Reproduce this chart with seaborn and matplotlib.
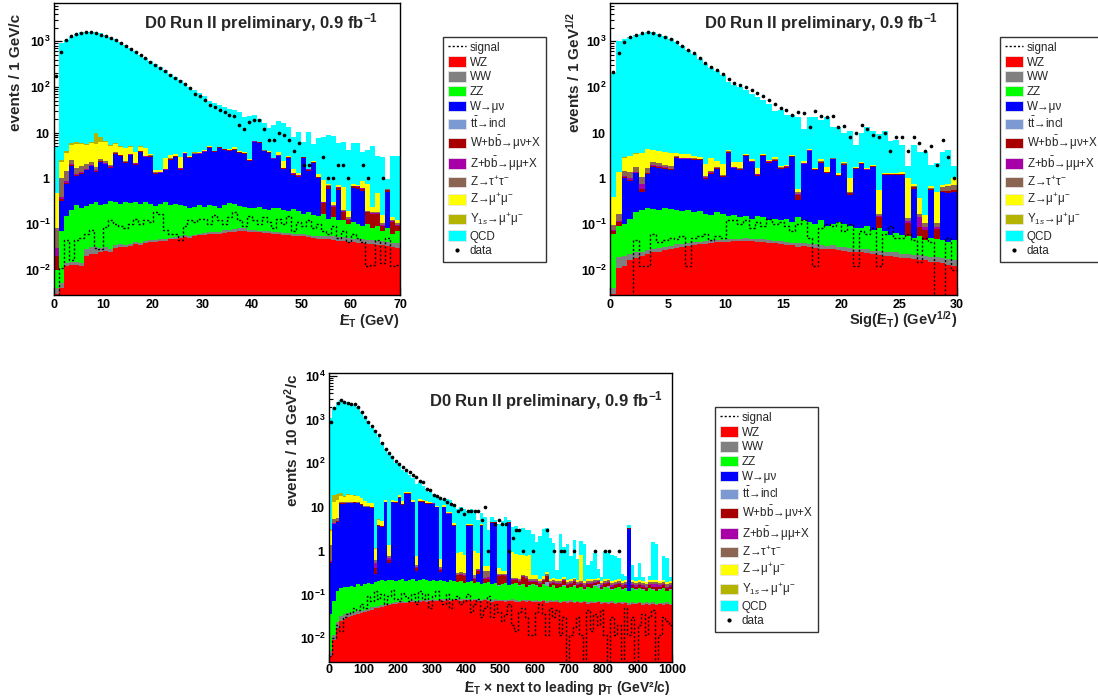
import numpy as np
import matplotlib
matplotlib.use("Agg")
import matplotlib.pyplot as plt
import seaborn as sns
from matplotlib.lines import Line2D
from matplotlib.patches import Patch
from matplotlib.ticker import MultipleLocator, FixedLocator, NullFormatter, FuncFormatter

# ---------------- panel 1 : missing ET, 1 GeV bins (0-70) ----------------
wz1 = [0.003, 0.004, 0.012, 0.013, 0.013, 0.012, 0.020, 0.022, 0.022, 0.024,
       0.026, 0.025, 0.030, 0.032, 0.031, 0.033, 0.036, 0.035, 0.038, 0.040,
       0.041, 0.043, 0.042, 0.046, 0.047, 0.050, 0.052, 0.050, 0.055, 0.057,
       0.058, 0.061, 0.062, 0.060, 0.065, 0.066, 0.068, 0.072, 0.070, 0.068,
       0.067, 0.066, 0.065, 0.064, 0.062, 0.060, 0.059, 0.058, 0.056, 0.055,
       0.054, 0.052, 0.050, 0.048, 0.047, 0.046, 0.045, 0.043, 0.043, 0.041,
       0.040, 0.039, 0.038, 0.037, 0.036, 0.035, 0.034, 0.033, 0.031, 0.030]
ww1 = [0.001, 0.001, 0.002, 0.002, 0.002, 0.002, 0.008, 0.010, 0.009, 0.006,
       0.005, 0.004, 0.004, 0.005, 0.004, 0.004, 0.005, 0.004, 0.004, 0.005,
       0.004, 0.004, 0.005, 0.004, 0.005, 0.004, 0.005, 0.005, 0.004, 0.005,
       0.006, 0.005, 0.006, 0.008, 0.010, 0.009, 0.010, 0.012, 0.011, 0.008,
       0.006, 0.006, 0.005, 0.006, 0.005, 0.006, 0.005, 0.006, 0.005, 0.006,
       0.006, 0.005, 0.006, 0.007, 0.008, 0.009, 0.010, 0.009, 0.010, 0.009,
       0.008, 0.009, 0.008, 0.007, 0.008, 0.008, 0.009, 0.008, 0.007, 0.008]
zz1 = [0.006, 0.065, 0.136, 0.185, 0.245, 0.206, 0.222, 0.238, 0.269, 0.230,
       0.249, 0.291, 0.266, 0.233, 0.265, 0.253, 0.269, 0.241, 0.258, 0.225,
       0.205, 0.233, 0.253, 0.210, 0.218, 0.206, 0.193, 0.175, 0.181, 0.198,
       0.176, 0.194, 0.182, 0.162, 0.185, 0.215, 0.192, 0.166, 0.159, 0.144,
       0.157, 0.168, 0.140, 0.130, 0.153, 0.164, 0.136, 0.126, 0.149, 0.129,
       0.110, 0.123, 0.104, 0.095, 0.115, 0.075, 0.085, 0.068, 0.067, 0.050,
       0.062, 0.052, 0.044, 0.056, 0.036, 0.047, 0.027, 0.039, 0.022, 0.032]
wmn1 = [0.0, 0.25, 0.6, 1.7, 0.85, 1.05, 1.25, 1.55, 1.1, 2.0,
        1.75, 1.4, 3.1, 2.8, 1.9, 2.9, 1.7, 3.5, 2.6, 2.7,
        1.0, 1.0, 1.2, 2.3, 2.7, 1.3, 3.1, 2.6, 3.1, 3.1,
        3.5, 4.4, 3.5, 4.4, 3.9, 3.7, 4.0, 3.4, 3.2, 2.2,
        6.0, 5.8, 3.7, 3.4, 2.4, 2.8, 1.4, 2.6, 1.0, 0.9,
        2.6, 1.3, 2.0, 0.85, 0.0, 0.45, 0.0, 0.45, 0.0, 0.0,
        0.5, 0.5, 0.45, 0.0, 0.0, 0.0, 0.0, 0.42, 0.0, 0.0]
wbb1 = [0.01, 0.03, 0.05, 0.08, 0.05, 0.06, 0.06, 0.07, 0.06, 0.09,
        0.08, 0.07, 0.12, 0.10, 0.08, 0.12, 0.08, 0.14, 0.10, 0.11,
        0.06, 0.06, 0.06, 0.09, 0.10, 0.06, 0.12, 0.10, 0.12, 0.12,
        0.13, 0.15, 0.13, 0.15, 0.14, 0.13, 0.14, 0.13, 0.12, 0.10,
        0.18, 0.18, 0.13, 0.12, 0.10, 0.12, 0.08, 0.10, 0.06, 0.06,
        0.10, 0.07, 0.08, 0.05, 0.12, 0.10, 0.10, 0.06, 0.06, 0.02,
        0.06, 0.06, 0.06, 0.08, 0.09, 0.08, 0.02, 0.06, 0.05, 0.02]
zbb1 = [0.01, 0.05, 0.08, 0.10, 0.07, 0.07, 0.06, 0.06, 0.05, 0.06,
        0.05, 0.05, 0.07, 0.06, 0.05, 0.06, 0.05, 0.06, 0.05, 0.05,
        0.03, 0.03, 0.03, 0.04, 0.04, 0.03, 0.04, 0.04, 0.04, 0.04,
        0.04, 0.04, 0.04, 0.04, 0.04, 0.03, 0.03, 0.03, 0.03, 0.03,
        0.04, 0.04, 0.03, 0.03, 0.02, 0.03, 0.02, 0.02, 0.02, 0.02,
        0.02, 0.02, 0.02, 0.01, 0.01, 0.01, 0.01, 0.01, 0.01, 0.01,
        0.01, 0.01, 0.01, 0.005, 0.005, 0.005, 0.005, 0.01, 0.005, 0.005]
ztt1 = [0.05, 0.6, 0.6, 0.5, 0.5, 0.45, 0.4, 0.35, 0.3, 0.25,
        0.2, 0.15, 0.12, 0.1, 0.1, 0.08, 0.08, 0.07, 0.06, 0.06,
        0.04, 0.04, 0.05, 0.04, 0.04, 0.03, 0.03, 0.03, 0.03, 0.03,
        0.03, 0.02, 0.02, 0.02, 0.02, 0.02, 0.02, 0.02, 0.02, 0.02,
        0.02, 0.02, 0.02, 0.01, 0.01, 0.01, 0.01, 0.01, 0.01, 0.01,
        0.01, 0.01, 0.01, 0.01, 0.01, 0.01, 0.01, 0.01, 0.01, 0.01,
        0.01, 0.01, 0.01, 0.01, 0.01, 0.01, 0.01, 0.01, 0.01, 0.01]
zmm1 = [0.4, 1.3, 2.2, 2.7, 3.85, 3.9, 3.25, 3.5, 3.8, 3.45,
        3.95, 3.15, 1.9, 1.6, 2.2, 1.5, 1.5, 0.9, 1.5, 0.25,
        0.15, 0.12, 1.2, 0.5, 0.2, 1.2, 0.25, 0.15, 0.15, 0.15,
        0.15, 0.15, 0.1, 0.1, 0.1, 0.3, 0.3, 0.12, 0.1, 0.08,
        0.12, 0.1, 0.1, 0.3, 0.1, 0.5, 0.7, 0.1, 0.3, 0.1,
        0.1, 0.05, 0.1, 0.15, 0.6, 0.05, 0.05, 0.05, 0.45, 0.05,
        0.05, 0.05, 0.25, 0.55, 0.05, 0.3, 0.05, 0.02, 0.02, 0.02]
ups1 = [0.0, 0.2, 0.3, 0.8, 0.7, 0.3, 0.3, 0.3, 4.0, 1.8,
        0.3, 0.2, 0.2, 0.1, 0.1, 0.05, 0.05, 0.05, 0.05, 0.03,
        0.03, 0.02, 0.02, 0.02, 0.02, 0.01, 0.01, 0.01, 0.01, 0.01,
        0.01, 0.01, 0.01, 0.01, 0.01, 0.01, 0, 0, 0, 0,
        0, 0, 0, 0, 0, 0, 0, 0, 0, 0,
        0, 0, 0, 0, 0, 0, 0, 0, 0, 0,
        0, 0, 0, 0, 0, 0, 0, 0, 0, 0]
qcd1 = [4.5, 898, 1046, 1244, 1444, 1574, 1615, 1634, 1591, 1492,
        1394, 1245, 1095, 945, 815, 695, 596, 505, 425, 367,
        318, 273, 227, 192, 162, 142, 121, 97, 84, 71,
        58, 45, 41, 35, 32, 28.7, 27.4, 24, 18.4, 20.4,
        17.6, 13.8, 11.9, 8.6, 12.2, 14.6, 13.8, 10, 6.6, 9.2,
        3.3, 8.8, 3.4, 6.3, 7.1, 8.2, 8.15, 5.15, 5.7, 4.0,
        5.1, 5.15, 3.0, 3.5, 4.95, 2.55, 2.75, 0.35, 2.9, 3.0]
data1 = [173, 590, 1070, 1300, 1450, 1550, 1600, 1580, 1500, 1400,
         1300, 1180, 1050, 920, 800, 690, 590, 500, 425, 360,
         305, 262, 222, 185, 158, 134, 117, 95, 72, 62,
         52, 40, 37, 31, 28, 25, 23, 15, 12, 17,
         19, 19, 12, 7, 7, 10, 9, 7, 4, 6,
         2, 2, 0, 0, 3, 1, 1, 2, 2, 1,
         0, 0, 2, 1, 0, 0, 1, 0, 0, 0]
sig1 = [0.001, 0.011, 0.044, 0.016, 0.044, 0.05, 0.06, 0.075, 0.03, 0.029,
        0.085, 0.12, 0.10, 0.09, 0.08, 0.10, 0.13, 0.10, 0.12, 0.11,
        0.18, 0.17, 0.073, 0.061, 0.06, 0.044, 0.09, 0.12, 0.11, 0.13,
        0.13, 0.10, 0.16, 0.12, 0.10, 0.14, 0.18, 0.12, 0.09, 0.15,
        0.12, 0.10, 0.14, 0.11, 0.08, 0.13, 0.10, 0.15, 0.07, 0.11,
        0.09, 0.12, 0.08, 0.10, 0.07, 0.06, 0.09, 0.05, 0.07, 0.04,
        0.06, 0.05, 0.04, 0.012, 0.013, 0.045, 0.014, 0.05, 0.012, 0.013]

# ---------------- panel 2 : Sig(missing ET), 0.5 bins (0-30) ----------------
wz2 = [0.003, 0.011, 0.012, 0.016, 0.018, 0.020, 0.022, 0.024, 0.025, 0.027,
       0.028, 0.030, 0.032, 0.033, 0.034, 0.036, 0.037, 0.038, 0.040, 0.040,
       0.041, 0.042, 0.043, 0.042, 0.042, 0.041, 0.040, 0.039, 0.038, 0.036,
       0.035, 0.034, 0.032, 0.033, 0.031, 0.030, 0.029, 0.028, 0.028, 0.027,
       0.026, 0.025, 0.024, 0.024, 0.023, 0.022, 0.021, 0.020, 0.020, 0.019,
       0.018, 0.018, 0.017, 0.016, 0.016, 0.015, 0.015, 0.014, 0.013, 0.012]
ww2 = [0.001, 0.008, 0.008, 0.006, 0.006, 0.005, 0.005, 0.005, 0.005, 0.005,
       0.005, 0.006, 0.005, 0.005, 0.006, 0.005, 0.005, 0.006, 0.005, 0.005,
       0.006, 0.006, 0.005, 0.007, 0.006, 0.005, 0.006, 0.005, 0.005, 0.006,
       0.005, 0.005, 0.006, 0.005, 0.005, 0.006, 0.005, 0.005, 0.006, 0.005,
       0.005, 0.005, 0.004, 0.005, 0.005, 0.004, 0.005, 0.004, 0.004, 0.005,
       0.004, 0.004, 0.004, 0.005, 0.004, 0.004, 0.004, 0.004, 0.004, 0.004]
zz2 = [0.056, 0.07, 0.08, 0.108, 0.156, 0.175, 0.193, 0.181, 0.17, 0.188,
       0.177, 0.165, 0.153, 0.162, 0.141, 0.149, 0.128, 0.117, 0.135, 0.125,
       0.103, 0.112, 0.092, 0.103, 0.083, 0.104, 0.095, 0.076, 0.087, 0.079,
       0.09, 0.071, 0.103, 0.082, 0.074, 0.065, 0.086, 0.057, 0.067, 0.078,
       0.069, 0.06, 0.056, 0.051, 0.062, 0.048, 0.054, 0.045, 0.035, 0.041,
       0.037, 0.032, 0.028, 0.034, 0.025, 0.031, 0.029, 0.027, 0.023, 0.028]
wmn2 = [0.0, 0.0, 0.9, 0.75, 1.1, 0.3, 1.0, 1.6, 1.5, 1.4,
        1.3, 2.6, 2.4, 2.4, 2.4, 2.3, 0.8, 1.1, 1.4, 0.9,
        3.5, 1.5, 1.4, 2.9, 2.1, 1.0, 3.0, 2.1, 2.3, 1.5,
        1.6, 2.8, 0.2, 1.9, 3.8, 1.4, 2.1, 1.2, 2.5, 1.0,
        1.9, 0.35, 1.5, 2.0, 1.4, 1.7, 0.0, 1.1, 1.1, 1.1,
        1.1, 0.0, 0.55, 0.0, 0.0, 0.5, 0.0, 0.45, 0.45, 0.45]
wbb2 = [0.01, 0.02, 0.05, 0.06, 0.06, 0.10, 0.06, 0.08, 0.08, 0.07,
        0.07, 0.12, 0.10, 0.10, 0.10, 0.10, 0.05, 0.06, 0.07, 0.05,
        0.15, 0.07, 0.07, 0.12, 0.10, 0.06, 0.13, 0.10, 0.10, 0.07,
        0.08, 0.12, 0.10, 0.09, 0.15, 0.07, 0.10, 0.06, 0.10, 0.05,
        0.09, 0.04, 0.07, 0.10, 0.07, 0.08, 0.06, 0.06, 0.06, 0.06,
        0.06, 0.05, 0.04, 0.03, 0.03, 0.04, 0.03, 0.03, 0.04, 0.05]
zbb2 = [0.005, 0.01, 0.08, 0.06, 0.06, 0.15, 0.05, 0.05, 0.05, 0.05,
        0.04, 0.05, 0.05, 0.05, 0.04, 0.04, 0.03, 0.03, 0.03, 0.03,
        0.04, 0.03, 0.03, 0.03, 0.03, 0.02, 0.03, 0.03, 0.03, 0.02,
        0.02, 0.03, 0.02, 0.02, 0.03, 0.02, 0.02, 0.02, 0.02, 0.02,
        0.02, 0.01, 0.02, 0.02, 0.02, 0.02, 0.01, 0.02, 0.02, 0.02,
        0.02, 0.01, 0.01, 0.06, 0.01, 0.01, 0.01, 0.01, 0.01, 0.01]
ztt2 = [0.02, 0.05, 0.30, 0.40, 0.40, 0.30, 0.40, 0.35, 0.30, 0.25,
        0.20, 0.15, 0.12, 0.10, 0.10, 0.08, 0.08, 0.07, 0.06, 0.06,
        0.05, 0.05, 0.04, 0.04, 0.04, 0.04, 0.03, 0.03, 0.03, 0.03,
        0.03, 0.03, 0.03, 0.03, 0.03, 0.02, 0.02, 0.02, 0.02, 0.02,
        0.02, 0.02, 0.02, 0.02, 0.02, 0.02, 0.02, 0.02, 0.02, 0.02,
        0.02, 0.02, 0.02, 0.02, 0.02, 0.02, 0.02, 0.12, 0.15, 0.15]
zmm2 = [0.29, 1.2, 1.4, 1.7, 1.7, 2.5, 2.6, 1.8, 1.75, 1.7,
        1.85, 0.4, 0.5, 0.5, 0.3, 0.3, 0.9, 1.4, 0.7, 0.9,
        0.25, 0.5, 0.6, 0.15, 0.3, 0.4, 0.15, 0.2, 0.3, 0.15,
        0.1, 0.15, 0.1, 0.3, 0.2, 0.1, 0.25, 0.4, 0.1, 0.1,
        0.1, 0.5, 0.1, 0.1, 0.1, 0.1, 0.4, 0.05, 0.05, 0.05,
        0.15, 0.9, 0.1, 0.2, 0.05, 0.05, 0.4, 0.05, 0.05, 0.3]
ups2 = [0.0, 0.01, 0.05, 0.05, 0.05, 0.03, 0.03, 0.02, 0.02, 0.02,
        0, 0, 0, 0, 0, 0, 0, 0, 0, 0,
        0, 0, 0, 0, 0, 0, 0, 0, 0, 0,
        0, 0, 0, 0, 0, 0, 0, 0, 0, 0,
        0, 0, 0, 0, 0, 0, 0, 0, 0, 0,
        0, 0, 0, 0, 0, 0, 0, 0, 0, 0]
qcd2 = [199.6, 998.7, 1097, 1247, 1377, 1476, 1556, 1556, 1446, 1316,
        1146, 977, 797, 637, 517, 417, 318, 257, 218, 178,
        126, 110, 98, 83, 69, 60, 48.5, 39.4, 27, 30,
        23, 20.8, 21.4, 9.6, 17.7, 20.3, 16.4, 20.2, 10.2, 11.7,
        7.4, 10, 3.7, 7.7, 11.7, 9, 8.7, 9.7, 5.2, 5.7,
        3.9, 0.8, 4.5, 3.4, 3.55, 1.34, 1.7, 3.05, 3.36, 0.9]
data2 = [217, 546, 980, 1230, 1370, 1490, 1590, 1490, 1370, 1260,
         1110, 980, 800, 650, 546, 440, 330, 270, 236, 190,
         150, 125, 110, 98, 86, 73, 62, 52, 42, 35,
         31, 25, 28, 27, 13, 30, 23, 22, 23, 13,
         14, 8, 10, 15, 12, 9, 8, 10, 4, 8,
         8, 4, 8, 6, 4, 5, 2, 7, 3, 1]
sig2 = [0.001, 0.001, 0.001, 0.001, 0.044, 0.012, 0.012, 0.06, 0.04, 0.045,
        0.05, 0.048, 0.055, 0.012, 0.05, 0.055, 0.06, 0.045, 0.055, 0.05,
        0.12, 0.12, 0.1, 0.12, 0.08, 0.11, 0.09, 0.13, 0.1, 0.11,
        0.09, 0.07, 0.1, 0.12, 0.05, 0.012, 0.08, 0.1, 0.09, 0.11,
        0.07, 0.1, 0.012, 0.07, 0.06, 0.08, 0.012, 0.06, 0.09, 0.05,
        0.05, 0.06, 0.045, 0.015, 0.05, 0.04, 0.001, 0.001, 0.05, 0.01]

# ---------------- panel 3 : MET x next-to-leading pT, 10 GeV^2 bins (0-1000) ----------------
wz3 = [0.004, 0.009, 0.017, 0.025, 0.028, 0.030, 0.032, 0.034, 0.036, 0.038,
       0.040, 0.042, 0.045, 0.048, 0.050, 0.052, 0.055, 0.057, 0.060, 0.062,
       0.063, 0.065, 0.064, 0.066, 0.068, 0.067, 0.069, 0.070, 0.068, 0.071,
       0.072, 0.070, 0.073, 0.072, 0.074, 0.071, 0.073, 0.075, 0.072, 0.074,
       0.073, 0.071, 0.074, 0.072, 0.070, 0.073, 0.071, 0.069, 0.072, 0.070,
       0.071, 0.068, 0.070, 0.072, 0.069, 0.067, 0.070, 0.068, 0.071, 0.066,
       0.069, 0.067, 0.070, 0.065, 0.068, 0.066, 0.069, 0.064, 0.067, 0.065,
       0.068, 0.063, 0.066, 0.064, 0.067, 0.062, 0.065, 0.063, 0.066, 0.061,
       0.064, 0.062, 0.065, 0.060, 0.063, 0.061, 0.064, 0.059, 0.062, 0.060,
       0.063, 0.058, 0.061, 0.059, 0.062, 0.057, 0.060, 0.058, 0.061, 0.057]
ww3 = [0.001, 0.003, 0.006, 0.008, 0.008, 0.007, 0.006, 0.006, 0.005, 0.005,
       0.005, 0.005, 0.006, 0.005, 0.005, 0.005, 0.006, 0.005, 0.005, 0.005,
       0.005, 0.006, 0.005, 0.005, 0.006, 0.005, 0.005, 0.005, 0.006, 0.005,
       0.005, 0.005, 0.005, 0.006, 0.005, 0.005, 0.005, 0.005, 0.005, 0.006,
       0.005, 0.005, 0.005, 0.005, 0.006, 0.005, 0.005, 0.005, 0.005, 0.005,
       0.005, 0.005, 0.006, 0.005, 0.005, 0.005, 0.005, 0.005, 0.005, 0.005,
       0.005, 0.005, 0.005, 0.005, 0.005, 0.006, 0.005, 0.005, 0.005, 0.005,
       0.005, 0.005, 0.005, 0.005, 0.005, 0.005, 0.005, 0.005, 0.005, 0.005,
       0.005, 0.005, 0.005, 0.005, 0.005, 0.005, 0.005, 0.005, 0.005, 0.005,
       0.005, 0.005, 0.005, 0.005, 0.005, 0.005, 0.005, 0.005, 0.005, 0.005]
zz3 = [0.030, 0.058, 0.097, 0.107, 0.114, 0.113, 0.122, 0.110, 0.129, 0.117,
       0.125, 0.133, 0.120, 0.137, 0.145, 0.153, 0.140, 0.158, 0.145, 0.133,
       0.142, 0.150, 0.131, 0.139, 0.147, 0.128, 0.136, 0.155, 0.137, 0.124,
       0.133, 0.125, 0.142, 0.123, 0.111, 0.134, 0.122, 0.110, 0.123, 0.101,
       0.112, 0.124, 0.101, 0.113, 0.095, 0.102, 0.114, 0.096, 0.103, 0.085,
       0.094, 0.107, 0.085, 0.093, 0.106, 0.088, 0.095, 0.077, 0.084, 0.099,
       0.086, 0.078, 0.095, 0.090, 0.077, 0.089, 0.066, 0.081, 0.088, 0.070,
       0.077, 0.092, 0.069, 0.081, 0.058, 0.083, 0.070, 0.092, 0.069, 0.064,
       0.081, 0.073, 0.060, 0.075, 0.082, 0.064, 0.071, 0.056, 0.073, 0.065,
       0.072, 0.067, 0.054, 0.076, 0.063, 0.058, 0.065, 0.077, 0.054, 0.068]
wmn3 = [0.5, 4.0, 4.5, 11.8, 11.8, 12.0, 12.0, 12.5, 12.0, 11.0,
        9.7, 9.7, 9.5, 0.1, 3.5, 3.3, 12.6, 0.3, 12.6, 12.3,
        16.0, 11.0, 20.0, 20.0, 12.6, 0.15, 13.0, 13.0, 11.8, 11.8,
        11.5, 9.7, 0.1, 9.7, 6.7, 6.7, 3.5, 0.0, 0.0, 0.0,
        3.5, 3.5, 0.0, 0.1, 3.5, 0.0, 0.0, 4.2, 4.2, 0.0,
        0.0, 0.0, 4.2, 0.0, 0.0, 0.0, 0.0, 0.0, 0.0, 0.0,
        0.0, 0.0, 0.0, 0.0, 0.0, 0.0, 0.0, 0.0, 0.0, 0.0,
        0.0, 0.0, 0.0, 0.0, 0.0, 0.0, 0.0, 0.0, 0.0, 0.0,
        0.0, 0.0, 0.0, 0.0, 0.0, 0.0, 0.0, 3.1, 0.0, 0.0,
        0.0, 0.0, 0.0, 0.0, 0.0, 0.0, 0.0, 0.0, 0.0, 0.0]
tt3 = [0.0, 0.002, 0.002, 0.002, 0.002, 0.002, 0.002, 0.002, 0.002, 0.002,
       0.002, 0.002, 0.002, 0.002, 0.002, 0.002, 0.002, 0.002, 0.002, 0.002,
       0.002, 0.002, 0.002, 0.002, 0.002, 0.002, 0.002, 0.002, 0.002, 0.002,
       0.002, 0.002, 0.002, 0.002, 0.002, 0.002, 0.002, 0.002, 0.002, 0.002,
       0.002, 0.002, 0.002, 0.002, 0.02, 0.002, 0.002, 0.002, 0.002, 0.002,
       0.002, 0.002, 0.002, 0.002, 0.002, 0.002, 0.002, 0.002, 0.002, 0.002,
       0.002, 0.002, 0.002, 0.03, 0.002, 0.002, 0.002, 0.002, 0.002, 0.002,
       0.002, 0.002, 0.002, 0.002, 0.002, 0.002, 0.002, 0.002, 0.03, 0.002,
       0.002, 0.02, 0.002, 0.002, 0.002, 0.002, 0.002, 0.002, 0.002, 0.002,
       0.002, 0.002, 0.002, 0.002, 0.002, 0.002, 0.002, 0.002, 0.002, 0.002]
wbb3 = [0.02, 0.1, 0.1, 0.3, 0.3, 0.3, 0.3, 0.3, 0.3, 0.3,
        0.25, 0.25, 0.25, 0.12, 0.1, 0.1, 0.3, 0.1, 0.3, 0.3,
        0.4, 0.3, 0.5, 0.5, 0.3, 0.05, 0.3, 0.3, 0.3, 0.3,
        0.3, 0.25, 0.05, 0.25, 0.2, 0.2, 0.1, 0.08, 0.08, 0.08,
        0.1, 0.1, 0.05, 0.06, 0.1, 0.04, 0.04, 0.1, 0.1, 0.1,
        0.1, 0.08, 0.1, 0.04, 0.03, 0.03, 0.08, 0.08, 0.03, 0.02,
        0.03, 0.02, 0.03, 0.07, 0.02, 0.02, 0.03, 0.02, 0.04, 0.02,
        0.02, 0.03, 0.02, 0.02, 0.02, 0.02, 0.03, 0.02, 0.02, 0.02,
        0.02, 0.02, 0.02, 0.02, 0.02, 0.02, 0.02, 0.08, 0.02, 0.02,
        0.02, 0.02, 0.02, 0.02, 0.02, 0.03, 0.02, 0.02, 0.02, 0.02]
zbb3 = [0.02, 0.1, 0.1, 0.15, 0.15, 0.15, 0.15, 0.15, 0.15, 0.12,
        0.12, 0.12, 0.12, 0.1, 0.05, 0.05, 0.1, 0.05, 0.1, 0.1,
        0.15, 0.1, 0.15, 0.15, 0.1, 0.02, 0.1, 0.1, 0.1, 0.1,
        0.1, 0.08, 0.02, 0.08, 0.06, 0.06, 0.04, 0.01, 0.01, 0.01,
        0.04, 0.04, 0.01, 0.01, 0.04, 0.02, 0.02, 0.04, 0.04, 0.01,
        0.01, 0.01, 0.04, 0.01, 0.01, 0.01, 0.01, 0.01, 0.01, 0.01,
        0.01, 0.01, 0.01, 0.01, 0.01, 0.01, 0.01, 0.01, 0.01, 0.01,
        0.01, 0.01, 0.01, 0.01, 0.01, 0.01, 0.01, 0.01, 0.01, 0.01,
        0.01, 0.01, 0.01, 0.01, 0.01, 0.01, 0.01, 0.02, 0.01, 0.01,
        0.01, 0.01, 0.01, 0.01, 0.02, 0.02, 0.01, 0.01, 0.01, 0.01]
ztt3 = [0.8, 1.0, 0.8, 0.6, 0.5, 0.4, 0.4, 0.3, 0.3, 0.3,
        0.2, 0.2, 0.2, 0.1, 0.1, 0.1, 0.1, 0.08, 0.08, 0.08,
        0.06, 0.06, 0.06, 0.06, 0.05, 0.05, 0.05, 0.05, 0.05, 0.04,
        0.04, 0.04, 0.04, 0.04, 0.04, 0.04, 0.03, 0.03, 0.03, 0.03,
        0.03, 0.03, 0.03, 0.03, 0.03, 0.1, 0.1, 0.03, 0.03, 0.03,
        0.02, 0.02, 0.02, 0.02, 0.02, 0.02, 0.02, 0.02, 0.02, 0.02,
        0.02, 0.02, 0.02, 0.02, 0.02, 0.02, 0.02, 0.02, 0.02, 0.02,
        0.02, 0.02, 0.02, 0.02, 0.02, 0.02, 0.02, 0.02, 0.02, 0.02,
        0.02, 0.02, 0.02, 0.02, 0.02, 0.02, 0.02, 0.02, 0.02, 0.02,
        0.02, 0.02, 0.02, 0.02, 0.02, 0.02, 0.02, 0.02, 0.02, 0.02]
zmm3 = [1.5, 8.0, 9.0, 5.0, 4.0, 6.0, 6.0, 5.0, 5.0, 4.0,
        3.0, 2.0, 2.0, 0.5, 1.2, 1.0, 1.0, 0.6, 1.2, 1.0,
        2.5, 2.0, 1.0, 1.5, 1.0, 0.3, 1.5, 1.0, 1.0, 0.5,
        0.5, 0.5, 0.2, 0.8, 0.6, 0.5, 0.5, 0.6, 0.6, 0.5,
        0.3, 0.2, 0.7, 0.5, 0.3, 0.1, 0.1, 0.1, 0.1, 0.1,
        0.05, 0.05, 0.1, 0.7, 0.6, 0.6, 0.5, 0.5, 0.6, 0.05,
        0.05, 0.03, 0.03, 0.03, 0.03, 0.03, 0.02, 0.02, 0.02, 0.02,
        0.02, 0.02, 0.02, 0.6, 0.02, 0.02, 0.02, 0.02, 0.02, 0.02,
        0.02, 0.02, 0.02, 0.02, 0.02, 0.02, 0.02, 0.05, 0.02, 0.02,
        0.02, 0.02, 0.02, 0.02, 0.02, 0.02, 0.02, 0.02, 0.02, 0.02]
ups3 = [0.3, 6.0, 5.0, 3.0, 1.0, 0.5, 0.3, 0.3, 0.2, 0.2,
        0.1, 0.1, 0.1, 0.05, 0.05, 0.05, 0.05, 0.02, 0.02, 0.02,
        0, 0, 0, 0, 0, 0, 0, 0, 0, 0,
        0, 0, 0, 0, 0, 0, 0, 0, 0, 0,
        0, 0, 0, 0, 0, 0, 0, 0, 0, 0,
        0, 0, 0, 0, 0, 0, 0, 0, 0, 0,
        0, 0, 0, 0, 0, 0, 0, 0, 0, 0,
        0, 0, 0, 0, 0, 0, 0, 0, 0, 0,
        0, 0, 0, 0, 0, 0, 0, 0, 0, 0,
        0, 0, 0, 0, 0, 0, 0, 0, 0, 0]
qcd3 = [1098, 1981, 2480, 2729, 2682, 2481, 2331, 2182, 1932, 1484,
        1087, 838, 638, 498, 395, 295, 201, 164, 116, 86,
        66, 58.5, 40.5, 33, 32, 33.2, 23, 15.5, 12, 9.4,
        7.7, 7.5, 15.5, 4.2, 7.4, 6.5, 6.6, 8.0, 9.0, 8.2,
        3.9, 5.0, 7.5, 4.1, 3.0, 5.6, 2.6, 1.4, 0.4, 3.65,
        4.4, 5.7, 0.5, 2.5, 2.9, 2.3, 2.6, 2.3, 2.2, 2.2,
        1.35, 1.95, 2.95, 3.05, 1.75, 1.25, 0.15, 2.25, 0.95, 1.25,
        0.55, 1.55, 0.45, 0.9, 1.25, 0.25, 0.35, 0.65, 0.15, 0.05,
        0.75, 0.65, 0.6, 0.55, 0.45, 0.1, 0.05, 0.4, 0.25, 0.05,
        0.3, 0.05, 0.0, 0.05, 1.35, 1.25, 0.0, 0.55, 0.5, 0.05]
data3 = [900, 1850, 2350, 2800, 2600, 2450, 2300, 2250, 2000, 1500,
         1150, 900, 700, 540, 440, 290, 210, 175, 140, 112,
         98, 82, 72, 63, 55, 49, 40, 37, 26, 24,
         19, 18, 16, 15, 13, 12, 11, 8, 9, 7,
         8, 8, 8, 8, 5, 10, 1, 0, 4, 5,
         4, 4, 1, 2, 3, 3, 1, 0, 0, 1,
         0, 0, 0, 3, 0, 1, 0, 1, 1, 0,
         0, 1, 0, 0, 0, 0, 0, 1, 0, 0,
         1, 1, 0, 0, 1, 0, 0, 0, 0, 0,
         0, 0, 0, 0, 0, 0, 0, 0, 0, 0]
sig3 = [0.004, 0.01, 0.02, 0.015, 0.03, 0.035, 0.04, 0.05, 0.045, 0.06,
        0.05, 0.09, 0.07, 0.12, 0.08, 0.1, 0.06, 0.09, 0.13, 0.08,
        0.07, 0.11, 0.09, 0.07, 0.1, 0.06, 0.12, 0.08, 0.1, 0.05,
        0.09, 0.12, 0.07, 0.06, 0.1, 0.05, 0.08, 0.09, 0.06, 0.07,
        0.1, 0.04, 0.06, 0.08, 0.03, 0.05, 0.09, 0.03, 0.06, 0.04,
        0.025, 0.035, 0.06, 0.02, 0.015, 0.04, 0.05, 0.03, 0.012, 0.012,
        0.04, 0.06, 0.035, 0.012, 0.05, 0.03, 0.045, 0.012, 0.03, 0.001,
        0.012, 0.018, 0.03, 0.012, 0.001, 0.045, 0.015, 0.035, 0.02, 0.045,
        0.012, 0.001, 0.03, 0.012, 0.02, 0.001, 0.05, 0.012, 0.03, 0.001,
        0.02, 0.035, 0.012, 0.03, 0.045, 0.001, 0.012, 0.03, 0.025, 0.02]

colors = {
    "WZ": "#ff0000", "WW": "#808080", "ZZ": "#00ff00", "Wmn": "#0000ff",
    "tt": "#7c9ad2", "Wbb": "#a80000", "Zbb": "#a800a8", "Ztt": "#8c6452",
    "Zmm": "#ffff00", "Ups": "#b4b400", "QCD": "#00ffff",
}
labels = {
    "WZ": "WZ", "WW": "WW", "ZZ": "ZZ", "Wmn": "W\u2192\u03bc\u03bd",
    "tt": "t$\\bar{\\mathrm{t}}$\u2192incl",
    "Wbb": "W+b$\\bar{\\mathrm{b}}$\u2192\u03bc\u03bd+X",
    "Zbb": "Z+b$\\bar{\\mathrm{b}}$\u2192\u03bc\u03bc+X",
    "Ztt": "Z\u2192\u03c4$^{+}$\u03c4$^{-}$",
    "Zmm": "Z\u2192\u03bc$^{+}$\u03bc$^{-}$",
    "Ups": "Y$_{1s}$\u2192\u03bc$^{+}$\u03bc$^{-}$",
    "QCD": "QCD",
}
order = ["WZ", "WW", "ZZ", "Wmn", "tt", "Wbb", "Zbb", "Ztt", "Zmm", "Ups", "QCD"]

sns.set_theme(style="white")
plt.rcParams["font.family"] = ["Liberation Sans", "DejaVu Sans"]
plt.rcParams["mathtext.fontset"] = "custom"
plt.rcParams["mathtext.rm"] = "Liberation Sans"
plt.rcParams["mathtext.it"] = "Liberation Sans:italic"
plt.rcParams["mathtext.bf"] = "Liberation Sans:bold"

W, H = 1098, 699
fig = plt.figure(figsize=(W / 100, H / 100), dpi=100)


def fx(px):
    return px / W


def fy(py):
    return 1 - py / H


def log_label(v, pos):
    e = int(round(np.log10(v)))
    if e == 0:
        return r"$\mathbf{1}$"
    if e == 1:
        return r"$\mathbf{10}$"
    return r"$\mathbf{10^{%d}}$" % e


def draw_panel(ax, edges, layers, data, signal, xmajor, xminor, ylim, tick_size, xpad):
    ax.set_yscale("log")
    centers = (edges[:-1] + edges[1:]) / 2
    bins = edges.tolist()
    running = np.zeros(len(centers))
    tops = []
    for key, vals in layers:
        running = running + np.asarray(vals, dtype=float)
        tops.append((running.copy(), colors[key]))
    # draw cumulative histograms from the top of the stack down
    for top, col in reversed(tops):
        sns.histplot(x=centers, weights=top, bins=bins, element="step", fill=True,
                     color=col, alpha=1, linewidth=0, ax=ax)
    sns.histplot(x=centers, weights=signal, bins=bins, element="step", fill=False,
                 color="black", linewidth=1.0, linestyle=(0, (1.5, 1.5)), ax=ax)
    d = np.asarray(data, dtype=float)
    m = d > 0
    sns.scatterplot(x=centers[m], y=d[m], color="black", s=7, linewidth=0, ax=ax)

    ax.set_xlim(edges[0], edges[-1])
    ax.set_ylim(*ylim)
    ax.set(xlabel="", ylabel="")
    ax.xaxis.set_major_locator(MultipleLocator(xmajor))
    ax.xaxis.set_minor_locator(MultipleLocator(xminor))
    ax.xaxis.set_major_formatter(FuncFormatter(lambda v, p: "%d" % int(round(v))))
    # only decades / sub-decades inside the visible range
    lo, hi = ylim
    exps = range(-3, 6)
    majors = [10.0 ** e for e in exps if lo <= 10.0 ** e <= hi]
    minors = [m * 10.0 ** e for e in exps for m in range(2, 10) if lo <= m * 10.0 ** e <= hi]
    ax.yaxis.set_major_locator(FixedLocator(majors))
    ax.yaxis.set_minor_locator(FixedLocator(minors))
    ax.yaxis.set_major_formatter(FuncFormatter(log_label))
    ax.yaxis.set_minor_formatter(NullFormatter())
    ax.tick_params(which="both", direction="in", top=False, right=False,
                   left=True, bottom=True, labelsize=tick_size, colors="black")
    ax.tick_params(axis="x", pad=xpad)
    ax.tick_params(axis="y", pad=2.5)
    ax.tick_params(which="major", length=6, width=0.9)
    ax.tick_params(which="minor", length=3, width=0.8)
    for t in ax.get_xticklabels():
        t.set_fontweight("bold")
    for sp in ax.spines.values():
        sp.set_color("black")
        sp.set_linewidth(1.0)
    ax.set_facecolor("white")


def add_legend(x0, y0):
    handles = [Line2D([], [], color="black", linestyle=(0, (1.5, 1.5)), linewidth=1)]
    texts = ["signal"]
    for k in order:
        handles.append(Patch(facecolor=colors[k], edgecolor="#e6e6e6", linewidth=0.6))
        texts.append(labels[k])
    handles.append(Line2D([], [], color="black", marker="o", markersize=2, linestyle="none"))
    texts.append("data")
    leg = fig.legend(handles, texts, loc="upper left", bbox_to_anchor=(fx(x0), fy(y0)),
                     bbox_transform=fig.transFigure, frameon=True, fancybox=False,
                     edgecolor="black", fontsize=8.4, handlelength=1.55, handleheight=1.0,
                     labelspacing=0.22, borderpad=0.4, handletextpad=0.35, borderaxespad=0)
    leg.get_frame().set_linewidth(1.0)
    return leg


title = r"D0 Run II preliminary, 0.9 fb$^{\mathbf{-1}}$"
etmiss = r"$\mathbf{/\!\!E}_{\mathbf{T}}$"

# panel 1
ax1 = fig.add_axes([fx(54), fy(295), fx(346), 292 / H])
layers1 = [("WZ", wz1), ("WW", ww1), ("ZZ", zz1), ("Wmn", wmn1), ("Wbb", wbb1),
           ("Zbb", zbb1), ("Ztt", ztt1), ("Zmm", zmm1), ("Ups", ups1), ("QCD", qcd1)]
draw_panel(ax1, np.linspace(0, 70, 71), layers1, data1, sig1, 10, 2, (0.0028, 6900), 9, 3)
fig.text(fx(378), fy(28), title, ha="right", va="baseline", fontsize=12, fontweight="bold")
fig.text(fx(16), fy(14), "events / 1 GeV/c", rotation=90, ha="center", va="top",
         fontsize=11, fontweight="bold")
fig.text(fx(400), fy(325), etmiss + " (GeV)", ha="right", va="baseline",
         fontsize=10.5, fontweight="bold")
add_legend(443, 37)

# panel 2
ax2 = fig.add_axes([fx(610), fy(295), fx(347), 292 / H])
layers2 = [("WZ", wz2), ("WW", ww2), ("ZZ", zz2), ("Wmn", wmn2), ("Wbb", wbb2),
           ("Zbb", zbb2), ("Ztt", ztt2), ("Zmm", zmm2), ("Ups", ups2), ("QCD", qcd2)]
draw_panel(ax2, np.linspace(0, 30, 61), layers2, data2, sig2, 5, 1, (0.0028, 6900), 9, 3)
fig.text(fx(938), fy(28), title, ha="right", va="baseline", fontsize=12, fontweight="bold")
fig.text(fx(574), fy(12), r"events / 1 GeV$^{\mathbf{1/2}}$", rotation=90, ha="center",
         va="top", fontsize=11, fontweight="bold")
fig.text(fx(957), fy(325), "Sig(" + etmiss + r") (GeV$^{\mathbf{1/2}}$)", ha="right",
         va="baseline", fontsize=10.5, fontweight="bold")
add_legend(1000, 37)

# panel 3
ax3 = fig.add_axes([fx(329), fy(661.7), fx(343), 288.4 / H])
layers3 = [("WZ", wz3), ("WW", ww3), ("ZZ", zz3), ("Wmn", wmn3), ("tt", tt3),
           ("Wbb", wbb3), ("Zbb", zbb3), ("Ztt", ztt3), ("Zmm", zmm3), ("Ups", ups3),
           ("QCD", qcd3)]
draw_panel(ax3, np.linspace(0, 1000, 101), layers3, data3, sig3, 100, 20, (0.0029, 11500), 9, 2)
fig.text(fx(663), fy(406), title, ha="right", va="baseline", fontsize=12, fontweight="bold")
fig.text(fx(292), fy(373), r"events / 10 GeV$^{\mathbf{2}}$/c", rotation=90, ha="center",
         va="top", fontsize=11, fontweight="bold")
fig.text(fx(671), fy(692), etmiss + " \u00d7 next to leading p$_{\\mathbf{T}}$ (GeV\u00b2/c)",
         ha="right", va="baseline", fontsize=10, fontweight="bold")
add_legend(715, 407)

fig.savefig("out.png", dpi=100, facecolor="white")
